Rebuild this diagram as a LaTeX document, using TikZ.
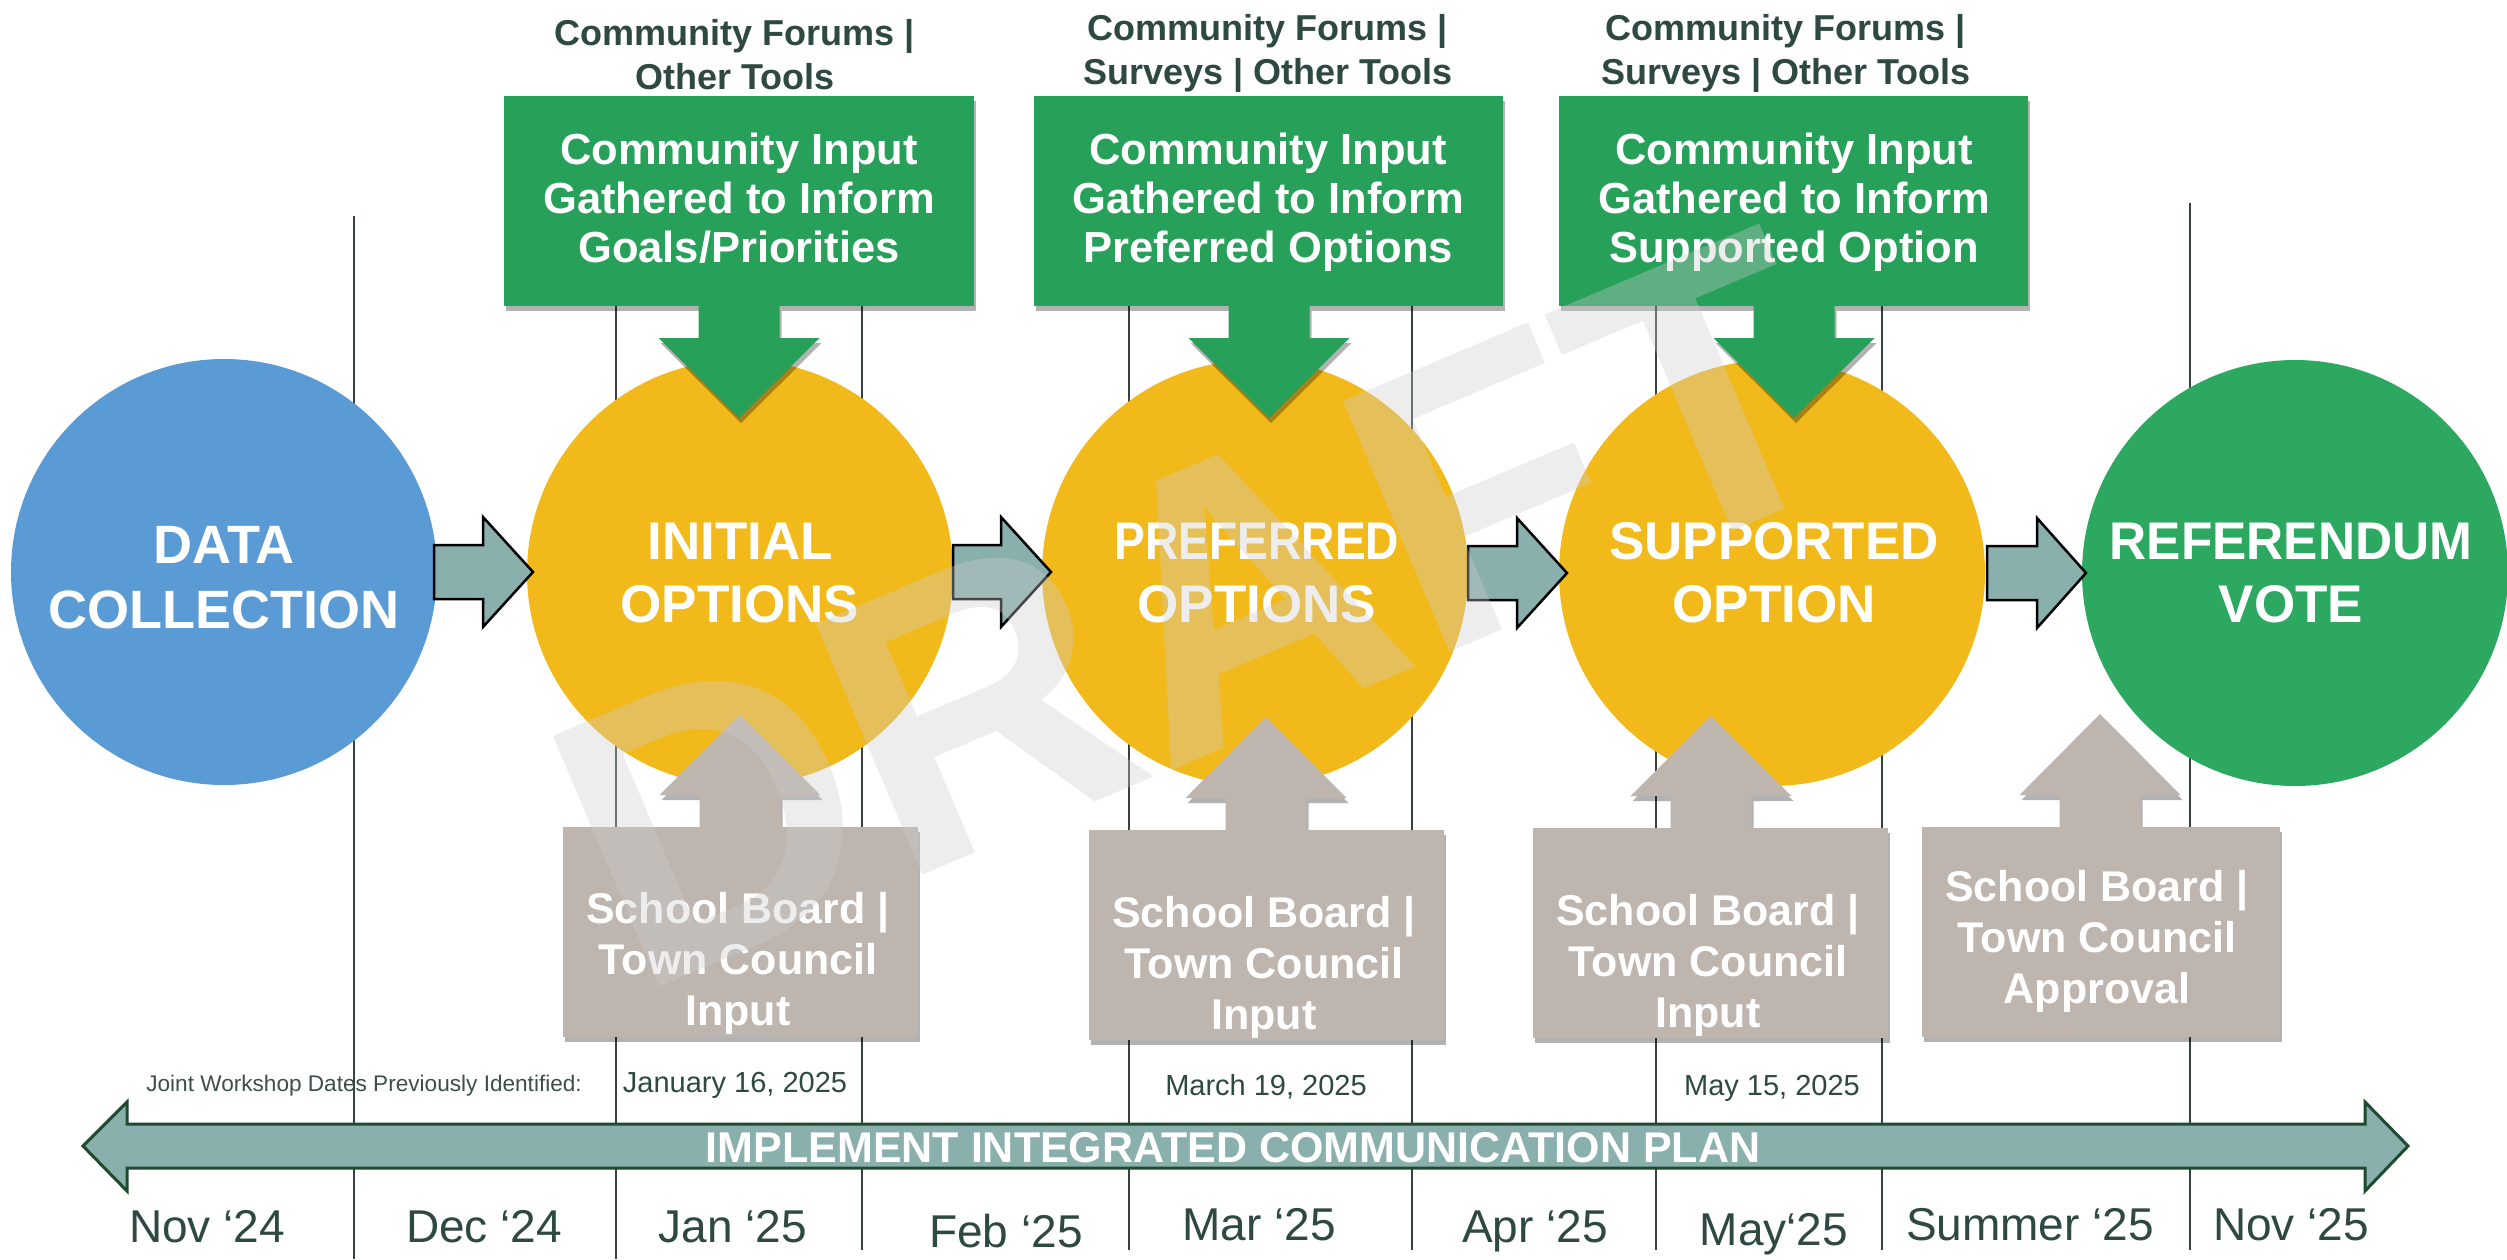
\documentclass[tikz,border=0pt]{standalone}
\usepackage{fontspec}
\setmainfont{Liberation Sans}
\usepackage{graphicx}
\usetikzlibrary{shadows}
\definecolor{cblue}{RGB}{91,155,213}
\definecolor{cyel}{RGB}{242,185,27}
\definecolor{cgbox}{RGB}{39,160,90}
\definecolor{cgcirc}{RGB}{44,168,96}
\definecolor{cteal}{RGB}{138,176,174}
\definecolor{cgrey}{RGB}{190,181,175}
\definecolor{cdark}{RGB}{46,72,66}
\definecolor{cjoint}{RGB}{62,78,74}
\definecolor{cband}{RGB}{30,74,46}
\definecolor{cline}{RGB}{55,66,64}
\definecolor{cwm}{RGB}{205,205,208}
\newcommand\blk[1]{\begin{tabular}[t]{@{}c@{}}#1\end{tabular}}
\newcommand\varr[5]{\path[#1] (#2-40.5,#3) -- (#2+40.5,#3) -- (#2+40.5,#4) -- (#2+80.5,#4) -- (#2,#5) -- (#2-80.5,#4) -- (#2-40.5,#4) -- cycle;}
\newcommand\tarr[4]{\draw[tealarr] (#1,#4-27) -- (#2,#4-27) -- (#2,#4-55) -- (#3,#4) -- (#2,#4+55) -- (#2,#4+27) -- (#1,#4+27) -- cycle;}
\tikzset{
  shd/.style={drop shadow={shadow xshift=2pt, shadow yshift=-5pt, opacity=0.3, fill=black}},
  gboxst/.style={rectangle, fill=cgbox, draw=none, inner sep=0, minimum height=210pt, shd},
  greyboxst/.style={rectangle, fill=cgrey, draw=none, inner sep=0, minimum height=210pt, shd},
  garr/.style={fill=cgbox, shd},
  greyarr/.style={fill=cgrey, shd},
  circst/.style={circle, inner sep=0, minimum size=426pt, draw=none},
  tealarr/.style={fill=cteal, draw=black, line width=2.5pt, line join=miter},
  gridline/.style={draw=cline, line width=1.5pt},
  toplab/.style={anchor=base, inner sep=0, text=cdark, font=\fontsize{36}{44}\selectfont\bfseries},
  gtext/.style={anchor=base, inner sep=0, text=white, font=\fontsize{43.5}{49}\selectfont\bfseries},
  circtext/.style={anchor=base, inner sep=0, text=white, font=\fontsize{53}{63}\selectfont\bfseries},
  greytext/.style={anchor=base, inner sep=0, text=white, font=\fontsize{43}{51}\selectfont\bfseries},
  datetext/.style={anchor=base, inner sep=0, text=cdark, font=\fontsize{29}{35}\selectfont},
  monthtext/.style={anchor=base, inner sep=0, text=cdark, font=\fontsize{46}{52}\selectfont},
}
\begin{document}
\begin{tikzpicture}[x=1pt, y=-1pt]
\useasboundingbox (0,0) rectangle (2507,1259);
\fill[white] (0,0) rectangle (2507,1259);
% grid lines
\foreach \x/\yt/\yb in {354/216/1259, 616/216/1259, 862/216/1250, 1129/216/1250, 1412/216/1250, 1656/216/1250, 1882/216/1250, 2190/203/1250}
  \draw[gridline] (\x,\yt) -- (\x,\yb);
% communication band
\draw[fill=cteal, draw=cband, line width=3pt, line join=miter]
  (83,1146) -- (127,1102) -- (127,1124) -- (2365,1124) -- (2365,1102) -- (2408,1146)
  -- (2365,1191) -- (2365,1168) -- (127,1168) -- (127,1191) -- cycle;
\node[anchor=base, inner sep=0, text=white, font=\fontsize{43}{50}\selectfont\bfseries] (bandt) at (1233,1162) {IMPLEMENT INTEGRATED COMMUNICATION PLAN};
% circles
\node[circst, fill=cblue] (c1) at (224,572) {};
\node[circst, fill=cyel] (c2) at (740,573) {};
\node[circst, fill=cyel] (c3) at (1255,573) {};
\node[circst, fill=cyel] (c4) at (1772,573) {};
\node[circst, fill=cgcirc] (c5) at (2295,573) {};
% teal arrows
\tarr{434}{483}{533}{572}
\tarr{953}{1001}{1051}{572}
\tarr{1468}{1517}{1567}{573}
\tarr{1987}{2037}{2086}{573}
% green boxes and arrows
\node[gboxst, minimum width=470pt] (g1) at (739,201) {};
\node[gboxst, minimum width=469pt] (g2) at (1268.5,201) {};
\node[gboxst, minimum width=469pt] (g3) at (1793.5,201) {};
\varr{garr}{739}{306}{338}{418}
\varr{garr}{1269}{306}{338}{418}
\varr{garr}{1794}{306}{338}{418}
% grey arrows and boxes
\varr{greyarr}{740}{827}{795}{715}
\varr{greyarr}{1266}{830}{798}{717}
\varr{greyarr}{1711}{828}{796}{716}
\varr{greyarr}{2100}{827}{795}{714}
\node[greyboxst, minimum width=355pt] (b1) at (740.5,932) {};
\node[greyboxst, minimum width=355pt] (b2) at (1266.5,935) {};
\node[greyboxst, minimum width=355pt] (b3) at (1710.5,933) {};
\node[greyboxst, minimum width=358pt] (b4) at (2101,932) {};
% top labels
\node[toplab] (t1) at (735,45) {\blk{Community Forums |\\Other Tools}};
\node[toplab] (t2) at (1268,40) {\blk{Community Forums |\\Surveys | Other Tools}};
\node[toplab] (t3) at (1786,40) {\blk{Community Forums |\\Surveys | Other Tools}};
% green box texts
\node[gtext] (g1t) at (739,164) {\blk{Community Input\\Gathered to Inform\\Goals/Priorities}};
\node[gtext] (g2t) at (1268,164) {\blk{Community Input\\Gathered to Inform\\Preferred Options}};
\node[gtext] (g3t) at (1794,164) {\blk{Community Input\\Gathered to Inform\\Supported Option}};
% circle texts
\node[anchor=base, inner sep=0, text=white, font=\fontsize{54}{65}\selectfont\bfseries] (c1t) at (224,563) {\blk{DATA\\COLLECTION}};
\node[circtext] (c2t) at (740,559) {\blk{INITIAL\\OPTIONS}};
\node[circtext] (c3t) at (1257,559) {\blk{\scalebox{0.87}[1]{PREFERRED}\\OPTIONS}};
\node[circtext] (c4t) at (1774,559) {\blk{SUPPORTED\\OPTION}};
\node[circtext] (c5t) at (2291,559) {\blk{\scalebox{0.97}[1]{REFERENDUM}\\VOTE}};
% grey box texts
\node[greytext] (b1t) at (738,923) {\blk{School Board |\\Town Council\\Input}};
\node[greytext] (b2t) at (1264,927) {\blk{School Board |\\Town Council\\Input}};
\node[greytext] (b3t) at (1708,925) {\blk{School Board |\\Town Council\\Input}};
\node[greytext] (b4t) at (2097,901) {\blk{School Board |\\Town Council\\Approval}};
% dates
\node[anchor=base east, inner sep=0, text=cjoint, font=\fontsize{22.6}{27}\selectfont] (joint) at (582,1091) {Joint Workshop Dates Previously Identified:};
\node[datetext] (d1) at (735,1092) {January 16, 2025};
\node[datetext] (d2) at (1266,1095) {March 19, 2025};
\node[datetext] (d3) at (1772,1095) {May 15, 2025};
% months
\node[monthtext] (m1) at (207,1242) {Nov ‘24};
\node[monthtext] (m2) at (484,1242) {Dec ‘24};
\node[monthtext] (m3) at (733,1242) {Jan ‘25};
\node[monthtext] (m4) at (1006,1247) {Feb ‘25};
\node[monthtext] (m5) at (1259,1240) {Mar ‘25};
\node[monthtext] (m6) at (1535,1242) {Apr ‘25};
\node[monthtext] (m7) at (1774,1245) {May‘25};
\node[monthtext] (m8) at (2030,1240) {Summer ‘25};
\node[monthtext] (m9) at (2291,1240) {Nov ‘25};
% watermark
\node[rotate=23, inner sep=0, text=cwm, text opacity=0.35, font=\fontsize{396}{396}\selectfont\bfseries] (wm) at (1200,610) {DRAFT};
\end{tikzpicture}
\end{document}
